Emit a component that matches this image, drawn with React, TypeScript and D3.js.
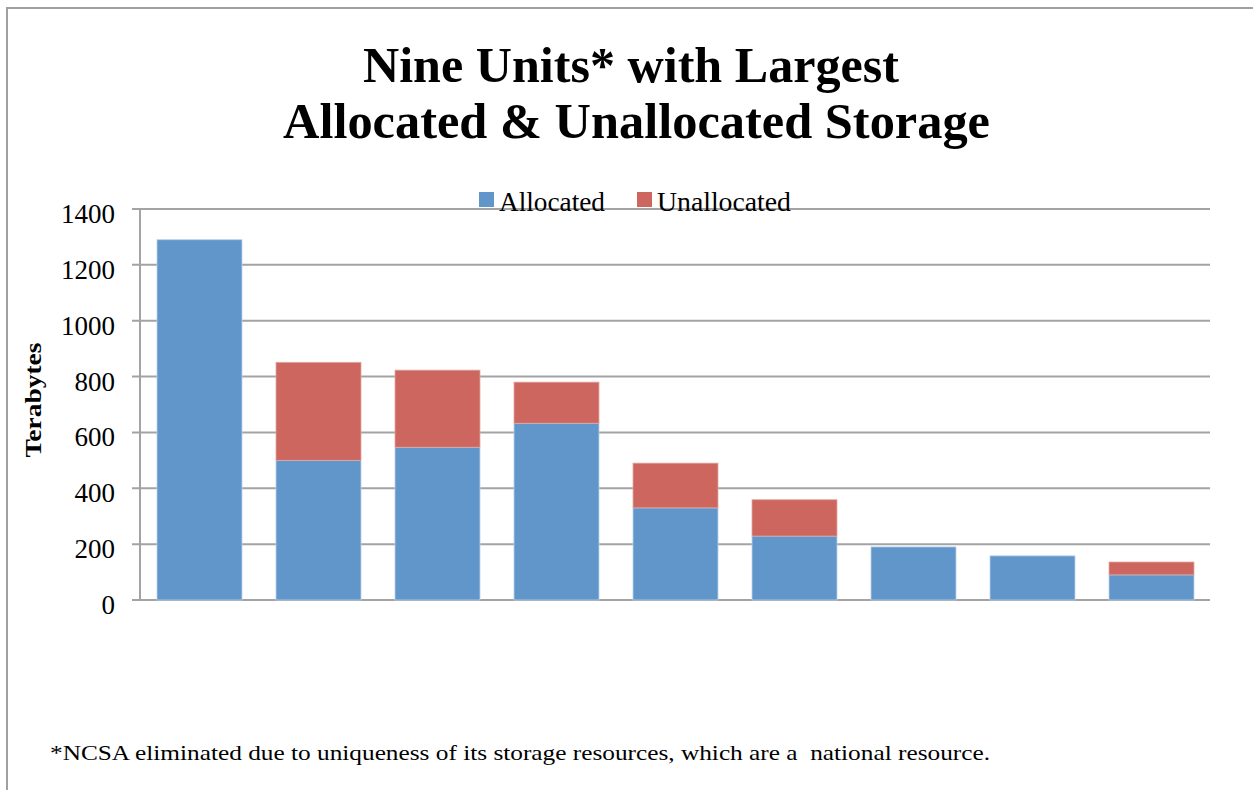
import React, { useEffect, useRef } from 'react';
import * as d3 from 'd3';

// values (terabytes)
const units = ['U1', 'U2', 'U3', 'U4', 'U5', 'U6', 'U7', 'U8', 'U9'];
const allocated = [1290, 500, 547, 633, 330, 229, 190, 158, 90];
const unallocated = [0, 351, 276, 147, 160, 130, 0, 0, 46];
const yTicks = [0, 200, 400, 600, 800, 1000, 1200, 1400];
const seriesNames = ['Allocated', 'Unallocated'];
const seriesColors = ['#6096C9', '#CC665E'];

const FONT = "'Liberation Serif', 'Times New Roman', serif";

export default function App() {
  const ref = useRef<SVGSVGElement>(null);

  useEffect(() => {
    const svg = d3.select(ref.current);
    svg.selectAll('*').remove();

    const left = 140, right = 1211, top = 209, bottom = 600;

    // frame around the chart, runs off the page on right/bottom
    svg.append('rect')
      .attr('x', 7).attr('y', 8)
      .attr('width', 1300).attr('height', 900)
      .attr('fill', '#fff')
      .attr('stroke', '#a0a0a0')
      .attr('stroke-width', 2);

    // title
    const title = [
      { t: 'Nine Units* with Largest', x: 363, w: 536, y: 82 },
      { t: 'Allocated & Unallocated Storage', x: 283, w: 707, y: 138 },
    ];
    title.forEach(l => {
      svg.append('text')
        .attr('x', l.x).attr('y', l.y)
        .attr('textLength', l.w)
        .attr('lengthAdjust', 'spacingAndGlyphs')
        .style('font-family', FONT)
        .style('font-weight', 'bold')
        .style('font-size', '50px')
        .text(l.t);
    });

    const x = d3.scaleBand<string>()
      .domain(units)
      .range([left, right])
      .paddingInner(0.286)
      .paddingOuter(0.143);
    const y = d3.scaleLinear()
      .domain([0, 1400])
      .range([bottom, top]);

    // gridlines + tick marks
    yTicks.forEach(t => {
      svg.append('line')
        .attr('x1', left - 8).attr('x2', right - 1)
        .attr('y1', y(t)).attr('y2', y(t))
        .attr('stroke', '#a3a3a3')
        .attr('stroke-width', 2);
      svg.append('text')
        .attr('x', 115).attr('y', y(t) + 14)
        .attr('text-anchor', 'end')
        .style('font-family', FONT)
        .style('font-size', '27px')
        .text(t);
    });
    svg.append('line')
      .attr('x1', left).attr('x2', left)
      .attr('y1', top).attr('y2', bottom)
      .attr('stroke', '#a3a3a3')
      .attr('stroke-width', 2);

    // stacked bars
    const rows = units.map((u, i) => ({ unit: u, Allocated: allocated[i], Unallocated: unallocated[i] }));
    const stack = d3.stack<any>().keys(seriesNames)(rows);
    stack.forEach((layer, si) => {
      svg.append('g')
        .selectAll('rect')
        .data(layer.filter(d => d[1] - d[0] > 0))
        .enter().append('rect')
        .attr('x', d => x(d.data.unit)!)
        .attr('width', x.bandwidth())
        .attr('y', d => y(d[1]))
        .attr('height', d => y(d[0]) - y(d[1]))
        .attr('fill', seriesColors[si])
        .attr('stroke', si === 0 ? '#b9d0ea' : '#e0a5a0')
        .attr('stroke-width', 0.8);
    });

    // legend
    const legend = [
      { sx: 479, tx: 499, w: 106 },
      { sx: 637, tx: 657, w: 134 },
    ];
    legend.forEach((l, i) => {
      svg.append('rect')
        .attr('x', l.sx).attr('y', 192)
        .attr('width', 15).attr('height', 15)
        .attr('fill', seriesColors[i]);
      svg.append('text')
        .attr('x', l.tx).attr('y', 211)
        .attr('textLength', l.w)
        .attr('lengthAdjust', 'spacingAndGlyphs')
        .style('font-family', FONT)
        .style('font-size', '27px')
        .text(seriesNames[i]);
    });

    // y axis title
    svg.append('text')
      .attr('transform', 'translate(41,400) rotate(-90)')
      .attr('text-anchor', 'middle')
      .attr('textLength', 115)
      .attr('lengthAdjust', 'spacingAndGlyphs')
      .style('font-family', FONT)
      .style('font-weight', 'bold')
      .style('font-size', '23px')
      .text('Terabytes');

    // footnote
    svg.append('text')
      .attr('x', 50).attr('y', 760)
      .attr('textLength', 940)
      .attr('lengthAdjust', 'spacingAndGlyphs')
      .style('font-family', FONT)
      .style('font-size', '22px')
      .style('white-space', 'pre')
      .text('*NCSA eliminated due to uniqueness of its storage resources, which are a  national resource.');
  }, []);

  return (
    <svg ref={ref} width={1253} height={790}
      style={{ position: 'absolute', left: 0, top: 0, background: '#fff' }} />
  );
}
